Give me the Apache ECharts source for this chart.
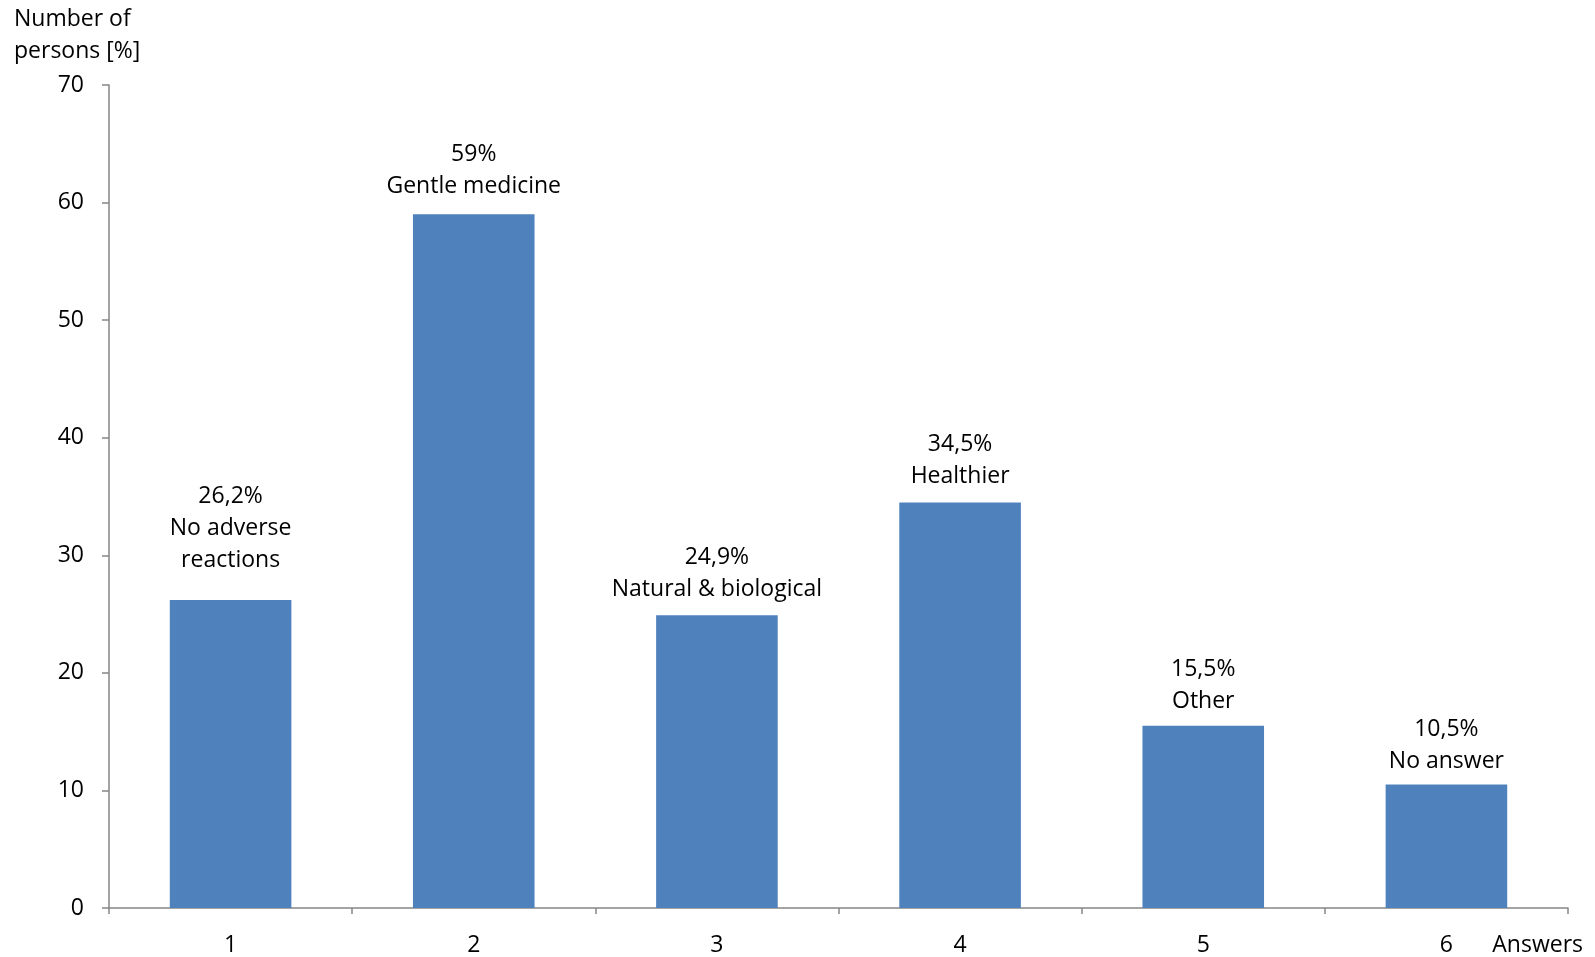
<!DOCTYPE html>
<html>
<head>
<meta charset="utf-8">
<script src="https://cdn.jsdelivr.net/npm/echarts@6/dist/echarts.min.js"></script>
<style>
html,body{margin:0;padding:0;background:#fff;}
#chart{width:1595px;height:957px;}
</style>
</head>
<body>
<div id="chart"></div>
<script>
const categories = ['1', '2', '3', '4', '5', '6'];
const values = [26.2, 59, 24.9, 34.5, 15.5, 10.5];
const valueLabels = ['26,2%', '59%', '24,9%', '34,5%', '15,5%', '10,5%'];
const answerNames = ['No adverse\nreactions', 'Gentle medicine', 'Natural & biological', 'Healthier', 'Other', 'No answer'];
const yTicks = [0, 10, 20, 30, 40, 50, 60, 70];

const FONT = '"Open Sans"';
const FS = 23;
const labelDistance = [24, 12, 10, 10, 8, 7];
const chart = echarts.init(document.getElementById('chart'));
chart.setOption({
  animation: false,
  backgroundColor: '#ffffff',
  grid: { left: 109, right: 27, top: 85, bottom: 49 },
  xAxis: {
    type: 'category',
    data: categories,
    boundaryGap: true,
    axisLine: { lineStyle: { color: '#868686', width: 1.5 } },
    axisTick: { show: true, length: 6, alignWithLabel: false, lineStyle: { color: '#868686', width: 1.5 } },
    axisLabel: { color: '#000', fontFamily: FONT, fontSize: FS, margin: 26 },
    splitLine: { show: false }
  },
  yAxis: {
    type: 'value',
    min: yTicks[0],
    max: yTicks[yTicks.length - 1],
    interval: 10,
    axisLine: { show: true, lineStyle: { color: '#868686', width: 1.5 } },
    axisTick: { show: true, length: 7, lineStyle: { color: '#868686', width: 1.5 } },
    axisLabel: { color: '#000', fontFamily: FONT, fontSize: FS, margin: 25 },
    splitLine: { show: false }
  },
  graphic: [
    {
      type: 'text', left: 14, top: 3,
      style: { text: 'Number of\npersons [%]', fill: '#000', font: FS + 'px ' + FONT, lineHeight: 32 }
    },
    {
      type: 'text', right: 12, top: 934,
      style: { text: 'Answers', fill: '#000', font: FS + 'px ' + FONT }
    }
  ],
  series: [{
    type: 'bar',
    data: values.map(function (v, i) {
      return { value: v, label: { distance: labelDistance[i] } };
    }),
    barWidth: '50%',
    itemStyle: { color: '#4F81BD' },
    label: {
      show: true,
      position: 'top',
      color: '#000',
      fontFamily: FONT,
      fontSize: FS,
      lineHeight: 32,
      align: 'center',
      formatter: function (p) { return valueLabels[p.dataIndex] + '\n' + answerNames[p.dataIndex]; }
    }
  }]
});
</script>
</body>
</html>
